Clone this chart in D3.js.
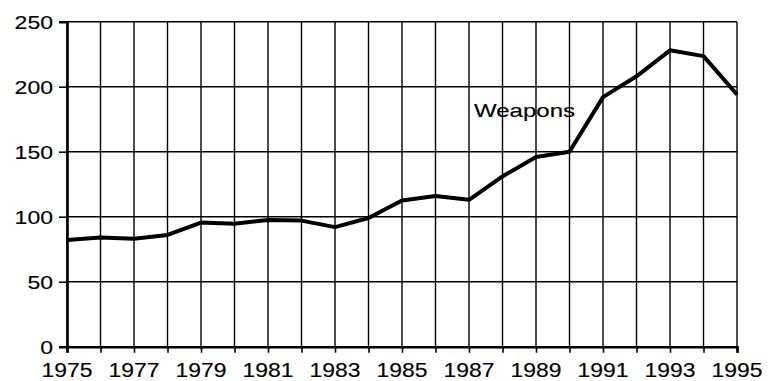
<!DOCTYPE html>
<html>
<head>
<meta charset="utf-8">
<script src="https://cdn.jsdelivr.net/npm/d3@7"></script>
<style>
  html, body { margin: 0; padding: 0; background: #fff; }
  svg { display: block; }
  text { font-family: "Liberation Sans", Arial, Helvetica, sans-serif; fill: #000; stroke: #000; stroke-width: 0.15px; }
</style>
</head>
<body>
<svg id="chart" width="773" height="381"></svg>
<script>
// Weapons index by year
const years = [1975, 1976, 1977, 1978, 1979, 1980, 1981, 1982, 1983, 1984, 1985,
               1986, 1987, 1988, 1989, 1990, 1991, 1992, 1993, 1994, 1995];
const weapons = [82, 84, 83, 86, 95.5, 94.5, 97.5, 97, 92, 99, 112.5,
                 116, 113, 131, 146, 150, 192, 208, 228, 223.5, 194];
const yTicks = [0, 50, 100, 150, 200, 250];
const xTickYears = [1975, 1977, 1979, 1981, 1983, 1985, 1987, 1989, 1991, 1993, 1995];
const seriesLabel = "Weapons";

const svg = d3.select("#chart");
const margin = { left: 67, right: 36, top: 21.7, bottom: 34.3 };
const W = 773, H = 381;

const x = d3.scaleLinear().domain([1975, 1995]).range([margin.left, W - margin.right]);
const y = d3.scaleLinear().domain([0, 250]).range([H - margin.bottom, margin.top]);

// vertical grid, one line per year
svg.append("g")
  .selectAll("line")
  .data(years)
  .join("line")
  .attr("x1", d => x(d)).attr("x2", d => x(d))
  .attr("y1", y(250)).attr("y2", y(0))
  .attr("stroke", "#000").attr("stroke-width", 1.4);

// horizontal grid
svg.append("g")
  .selectAll("line")
  .data(yTicks.filter(d => d > 0))
  .join("line")
  .attr("x1", x(1975)).attr("x2", x(1995))
  .attr("y1", d => y(d)).attr("y2", d => y(d))
  .attr("stroke", "#000").attr("stroke-width", 1.4);

// y axis
const yAxis = svg.append("g")
  .attr("transform", `translate(${x(1975)},0)`)
  .call(d3.axisLeft(y).tickValues(yTicks).tickSize(8).tickPadding(6).tickFormat(d3.format("d")));
yAxis.select(".domain").attr("stroke", "#000").attr("stroke-width", 2.6);
yAxis.selectAll(".tick line").attr("stroke", "#000").attr("stroke-width", 1.6);
yAxis.selectAll(".tick text")
  .attr("font-size", 19).attr("font-family", null).attr("dy", "0.36em").attr("fill", "#000")
  .attr("textLength", d => String(d).length * 12.8)
  .attr("lengthAdjust", "spacingAndGlyphs");

// x axis
const xAxis = svg.append("g")
  .attr("transform", `translate(0,${y(0)})`)
  .call(d3.axisBottom(x).tickValues(years).tickSize(6).tickFormat(""));
xAxis.select(".domain").attr("stroke", "#000").attr("stroke-width", 2.6);
xAxis.selectAll(".tick line").attr("stroke", "#000").attr("stroke-width", 1.6);

svg.append("g")
  .selectAll("text")
  .data(xTickYears)
  .join("text")
  .attr("x", d => x(d))
  .attr("y", y(0) + 30)
  .attr("text-anchor", "middle")
  .attr("font-size", 21)
  .attr("textLength", 51)
  .attr("lengthAdjust", "spacingAndGlyphs")
  .text(d => d);

// series line
const line = d3.line().x((d, i) => x(years[i])).y(d => y(d));
svg.append("path")
  .datum(weapons)
  .attr("d", line)
  .attr("fill", "none")
  .attr("stroke", "#000")
  .attr("stroke-width", 4)
  .attr("stroke-linejoin", "round");

// series label
svg.append("text")
  .attr("x", x(1987) + 5)
  .attr("y", y(200) + 30.5)
  .attr("font-size", 18.5)
  .attr("stroke-width", 0)
  .attr("textLength", 101)
  .attr("lengthAdjust", "spacingAndGlyphs")
  .text(seriesLabel);
</script>
</body>
</html>
